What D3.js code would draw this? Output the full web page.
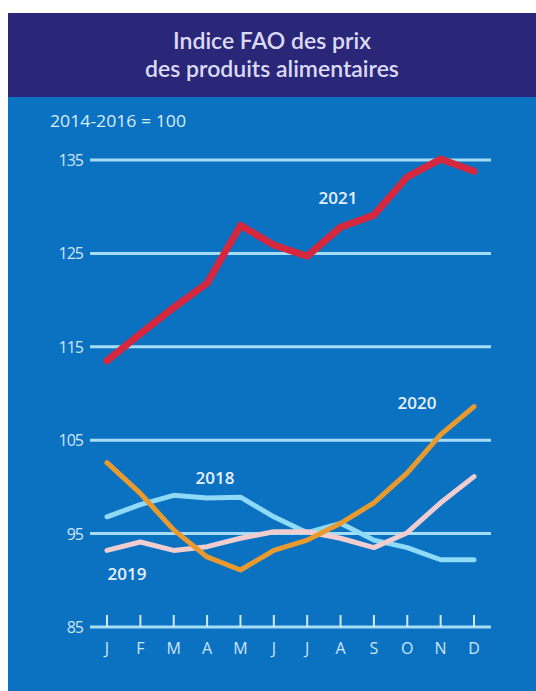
<!DOCTYPE html>
<html>
<head>
<meta charset="utf-8">
<script src="https://cdn.jsdelivr.net/npm/d3@7"></script>
<style>
  body { margin: 0; background: #fff; }
  svg { display: block; }
</style>
</head>
<body>
<div id="chart"></div>
<script>
// data (2014-2016 = 100)
const months = ["J", "F", "M", "A", "M", "J", "J", "A", "S", "O", "N", "D"];
const yTicks = [85, 95, 105, 115, 125, 135];
const v2018 = [96.8, 98.1, 99.1, 98.8, 98.9, 96.8, 95.1, 96.1, 94.3, 93.5, 92.2, 92.2];
const v2019 = [93.2, 94.1, 93.2, 93.6, 94.5, 95.2, 95.2, 94.5, 93.5, 95.1, 98.3, 101.1];
const v2020 = [102.6, 99.3, 95.4, 92.5, 91.1, 93.2, 94.3, 96.1, 98.3, 101.5, 105.6, 108.6];
const v2021 = [113.5, 116.4, 119.2, 121.8, 128.0, 125.9, 124.7, 127.8, 129.1, 133.2, 135.1, 133.8];

const series = [
  { name: "2018", values: v2018, color: "#8fdaf6", width: 5, label: [215, 484] },
  { name: "2019", values: v2019, color: "#f2cdd0", width: 5, label: [127, 580] },
  { name: "2020", values: v2020, color: "#e99a2c", width: 5, label: [417, 409] },
  { name: "2021", values: v2021, color: "#d5283f", width: 7, label: [338, 204] },
];

const W = 536, H = 691;
const svg = d3.select("#chart").append("svg")
  .attr("width", W).attr("height", H)
  .style("font-family", "'Open Sans', sans-serif");

// panel background + header band
svg.append("rect").attr("x", 8).attr("y", 13).attr("width", W - 8).attr("height", H - 13)
  .attr("fill", "#0b71c1");
svg.append("rect").attr("x", 8).attr("y", 13).attr("width", W - 8).attr("height", 84)
  .attr("fill", "#2a2778");

const title = svg.append("g")
  .attr("font-family", "Lato, sans-serif")
  .attr("font-size", 23)
  .attr("font-weight", 600)
  .attr("fill", "#dcdaf5")
  .attr("text-anchor", "middle");
title.append("text").attr("x", 272).attr("y", 49).text("Indice FAO des prix");
title.append("text").attr("x", 272).attr("y", 77).text("des produits alimentaires");

svg.append("text").attr("x", 50).attr("y", 127)
  .attr("fill", "#d9ecfa").attr("font-size", 17)
  .attr("textLength", 136).attr("lengthAdjust", "spacingAndGlyphs")
  .text("2014-2016 = 100");

const x = d3.scalePoint().domain(d3.range(12)).range([107, 474]);
const y = d3.scaleLinear().domain([85, 135]).range([627, 160]);

// horizontal gridlines
const grid = svg.append("g");
grid.selectAll("line").data(yTicks).join("line")
  .attr("x1", 90).attr("x2", 491)
  .attr("y1", (d) => y(d)).attr("y2", (d) => y(d))
  .attr("stroke", "#a6ddf6").attr("stroke-width", 3);
grid.selectAll("text").data(yTicks).join("text")
  .attr("x", 83).attr("y", (d) => y(d) + 6)
  .attr("text-anchor", "end").attr("fill", "#cfe6f8")
  .attr("font-size", 16).attr("letter-spacing", -1)
  .text((d) => d);

// month ticks and labels
const xa = svg.append("g");
xa.selectAll("line").data(d3.range(12)).join("line")
  .attr("x1", (d) => x(d)).attr("x2", (d) => x(d))
  .attr("y1", y(85) - 12).attr("y2", y(85))
  .attr("stroke", "#cfe9f8").attr("stroke-width", 2);
xa.selectAll("text").data(d3.range(12)).join("text")
  .attr("x", (d) => x(d)).attr("y", 654)
  .attr("text-anchor", "middle").attr("fill", "#cfe6f8").attr("font-size", 16)
  .text((d) => months[d]);

const line = d3.line()
  .x((d, i) => x(i))
  .y((d) => y(d));

svg.append("g").selectAll("path").data(series).join("path")
  .attr("d", (d) => line(d.values))
  .attr("fill", "none")
  .attr("stroke", (d) => d.color)
  .attr("stroke-width", (d) => d.width)
  .attr("stroke-linejoin", "round")
  .attr("stroke-linecap", "round");

svg.append("g").selectAll("text").data(series).join("text")
  .attr("x", (d) => d.label[0]).attr("y", (d) => d.label[1])
  .attr("text-anchor", "middle").attr("fill", "#e8eff9")
  .attr("font-size", 17).attr("font-weight", 600)
  .text((d) => d.name);
</script>
</body>
</html>
